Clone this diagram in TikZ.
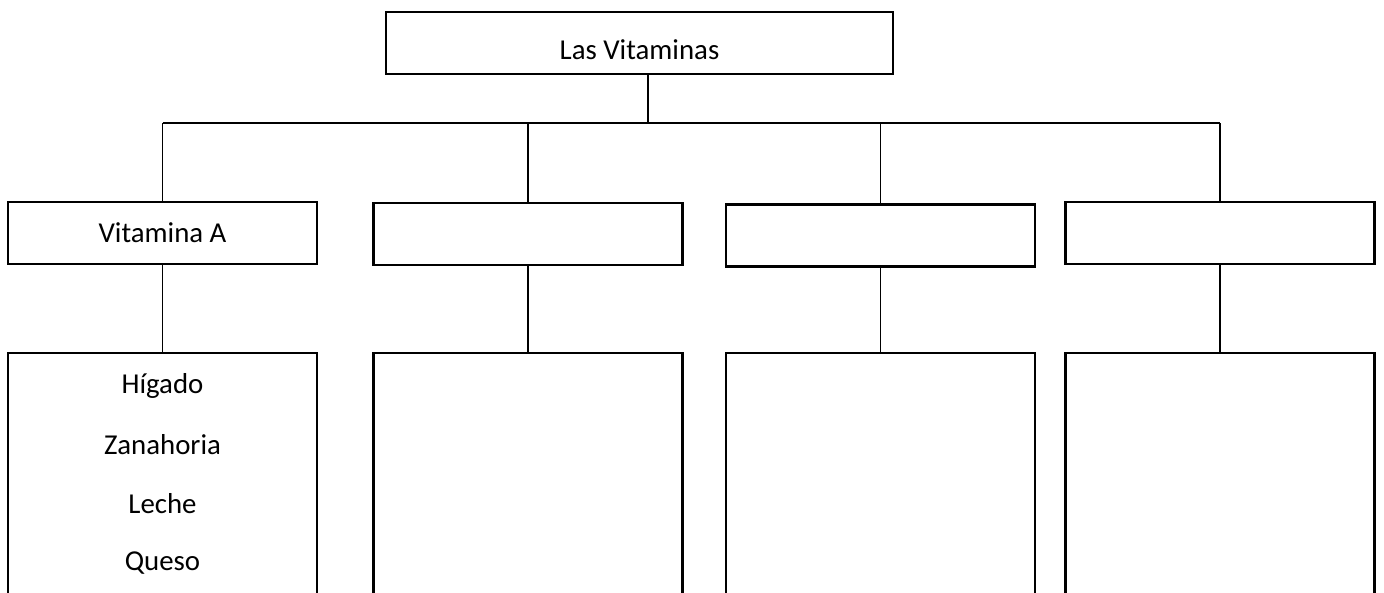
\documentclass[tikz,border=0pt]{standalone}
\usepackage{fontspec}
\setmainfont{Carlito}

\begin{document}
\begin{tikzpicture}[x=0.025cm,y=-0.025cm,
	caja/.style={draw,line width=1.8pt,inner sep=0pt,minimum width=7.725cm,minimum height=1.55cm,font=\fontsize{20.5}{24}\selectfont},
	lista/.style={caja,minimum height=6.75cm},
	alimento/.style={font=\fontsize{20.5}{24}\selectfont},
	linea/.style={line width=0.9pt}]
	%    \draw[step=50,gray,very thin] (0,0) grid (1384,593);
	\clip (0,0) rectangle (1384,593);

	\node[caja,minimum width=12.675cm,text height=0.8cm,text depth=0pt] (vit) at (639.5,43) {Las Vitaminas};

	\node[caja] (va) at (162.5,233) {Vitamina A};
	\node[caja] (vb) at (528,234) {};
	\node[caja] (vc) at (880.5,235.5) {};
	\node[caja] (vd) at (1220,233) {};

	\node[lista] (la) at (162.5,488) {};
	\node[lista] (lb) at (528,488) {};
	\node[lista] (lc) at (880.5,488) {};
	\node[lista] (ld) at (1220,488) {};

	\node[alimento] (higado) at (162.5,386) {Hígado};
	\node[alimento] (zanahoria) at (162.5,445) {Zanahoria};
	\node[alimento] (leche) at (162.5,504) {Leche};
	\node[alimento] (queso) at (162.5,563) {Queso};

	
	\coordinate (rama) at (648,123);
	\draw[linea] (vit.south -| rama) -- (rama);
	\draw[linea] (va.north |- rama) -- (vd.north |- rama);
	\draw[linea] (va.north |- rama) -- (va.north);
	\draw[linea] (vb.north |- rama) -- (vb.north);
	\draw[linea] (vc.north |- rama) -- (vc.north);
	\draw[linea] (vd.north |- rama) -- (vd.north);
	\draw[linea] (va) -- (la);
	\draw[linea] (vb) -- (lb);
	\draw[linea] (vc) -- (lc);
	\draw[linea] (vd) -- (ld);

	\end{tikzpicture}
\end{document}
